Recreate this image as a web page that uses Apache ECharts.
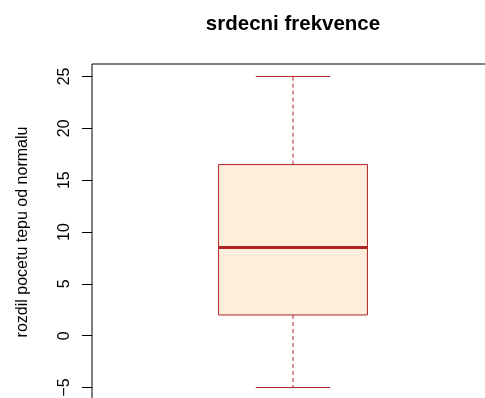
<!DOCTYPE html>
<html>
<head>
<meta charset="utf-8">
<script src="https://cdn.jsdelivr.net/npm/echarts@6/dist/echarts.min.js"></script>
<style>
html,body{margin:0;padding:0;background:#fff;}
#chart{width:485px;height:398px;}
</style>
</head>
<body>
<div id="chart"></div>
<script>
// ---- data ----
const titleText = 'srdecni frekvence';
const yAxisTitle = 'rozdil pocetu tepu od normalu';
const groupPositions = [1];
const whiskerLow = [-5];
const quartile1 = [2];
const medians = [8.5];
const quartile3 = [16.5];
const whiskerHigh = [25];
const yTicks = [-5, 0, 5, 10, 15, 20, 25];

const seriesData = groupPositions.map((p, i) => [p, whiskerLow[i], quartile1[i], medians[i], quartile3[i], whiskerHigh[i]]);

const FONT = 'Liberation Sans, Arial, Helvetica, sans-serif';
const LINE = '#B22222';
const FILL = '#FFEEDB';

const chart = echarts.init(document.getElementById('chart'), null, {renderer: 'canvas'});

chart.setOption({
  animation: false,
  backgroundColor: '#fff',
  title: {
    text: titleText,
    left: 288,
    top: 9,
    textAlign: 'center',
    textStyle: {fontFamily: FONT, fontWeight: 'bold', fontSize: 20.5, color: '#000'}
  },
  grid: {
    left: 92, top: 64, width: 402, height: 336,
    outerBoundsMode: 'none',
    containLabel: false,
    show: true, borderColor: '#000', borderWidth: 1, backgroundColor: 'transparent'
  },
  xAxis: {
    type: 'value', min: 0.46, max: 1.54,
    show: false
  },
  yAxis: {
    type: 'value', min: -6.2, max: 26.2,
    name: yAxisTitle,
    nameLocation: 'middle',
    nameGap: 61,
    nameRotate: 90,
    nameTextStyle: {fontFamily: FONT, fontSize: 16, color: '#000'},
    axisLine: {show: false},
    splitLine: {show: false},
    axisTick: {show: true, length: 10, customValues: yTicks, lineStyle: {color: '#000', width: 1}},
    axisLabel: {
      show: true, rotate: 90, margin: 19, customValues: yTicks,
      fontFamily: FONT, fontSize: 16, color: '#000',
      formatter: v => (v < 0 ? '\u2212' + Math.abs(v) : String(v))
    }
  },
  series: [{
    type: 'custom',
    clip: false,
    data: seriesData,
    encode: {x: 0, y: [1, 2, 3, 4, 5]},
    renderItem: function (params, api) {
      const x = api.value(0);
      const lo = api.value(1), q1 = api.value(2), md = api.value(3), q3 = api.value(4), hi = api.value(5);
      const halfBox = 0.2, halfCap = 0.1;
      const c = api.coord([x, md]);
      const pLo = api.coord([x, lo]), pQ1 = api.coord([x, q1]), pQ3 = api.coord([x, q3]), pHi = api.coord([x, hi]);
      const xl = api.coord([x - halfBox, md])[0], xr = api.coord([x + halfBox, md])[0];
      const cl = api.coord([x - halfCap, md])[0], cr = api.coord([x + halfCap, md])[0];
      const solid = {stroke: LINE, lineWidth: 1, fill: null};
      const dashed = {stroke: LINE, lineWidth: 1, lineDash: [4, 3], fill: null};
      return {
        type: 'group',
        children: [
          {type: 'line', shape: {x1: c[0], y1: pQ3[1], x2: c[0], y2: pHi[1]}, style: dashed},
          {type: 'line', shape: {x1: c[0], y1: pQ1[1], x2: c[0], y2: pLo[1]}, style: dashed},
          {type: 'line', shape: {x1: cl, y1: pHi[1], x2: cr, y2: pHi[1]}, style: solid},
          {type: 'line', shape: {x1: cl, y1: pLo[1], x2: cr, y2: pLo[1]}, style: solid},
          {type: 'rect', shape: {x: xl, y: pQ3[1], width: xr - xl, height: pQ1[1] - pQ3[1]},
            style: {fill: FILL, stroke: LINE, lineWidth: 1}},
          {type: 'line', shape: {x1: xl, y1: c[1], x2: xr, y2: c[1]}, style: {stroke: LINE, lineWidth: 3}}
        ]
      };
    }
  }]
});
</script>
</body>
</html>
